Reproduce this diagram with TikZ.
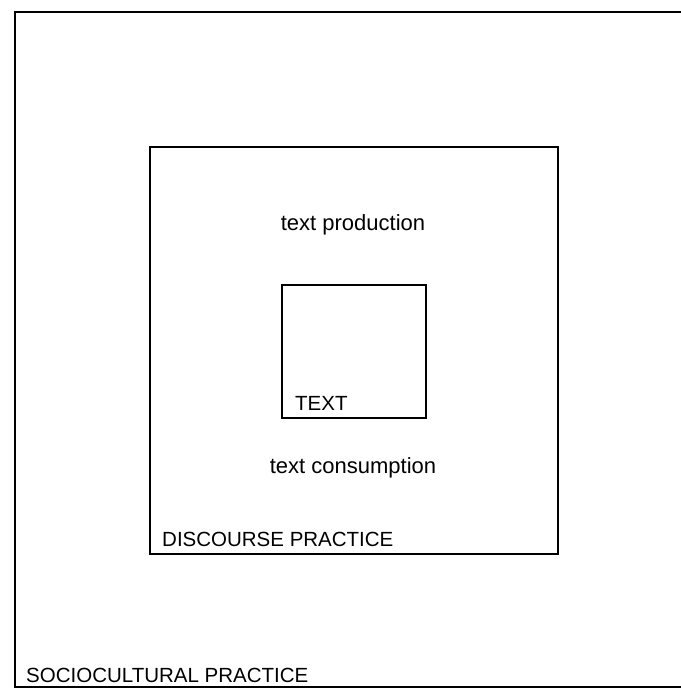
\documentclass[tikz,border=0pt]{standalone}
\usepackage{fontspec}
\setmainfont{Liberation Sans}
\usepackage{tikz}

\begin{document}
\begin{tikzpicture}[x=1pt,y=-1pt]
\tikzstyle{box} = [draw,line width=1.1pt,inner sep=0pt];
\tikzstyle{lower} = [inner sep=0pt,anchor=base,font=\fontsize{22}{26}\selectfont];
\tikzstyle{caps} = [inner sep=0pt,anchor=base west,font=\fontsize{20.5}{24}\selectfont];
\useasboundingbox (0,0) rectangle (680,688);
\node [box,minimum width=685pt,minimum height=675pt] (socio) at (357.5,349.5) {};
\node [box,minimum width=408pt,minimum height=407pt] (disc) at (354,350.5) {};
\node [box,minimum width=144pt,minimum height=133pt] (txt) at (354,351.5) {};

\node [lower] (prod) at (353,230) {text production};
\node [lower] (cons) at (353,473) {text consumption};
\node [caps] (txtlabel) at (295,410) {TEXT};
\node [caps] (disclabel) at (162,546) {DISCOURSE PRACTICE};
\node [caps] (sociolabel) at (26,682) {SOCIOCULTURAL PRACTICE};
\end{tikzpicture}
\end{document}
